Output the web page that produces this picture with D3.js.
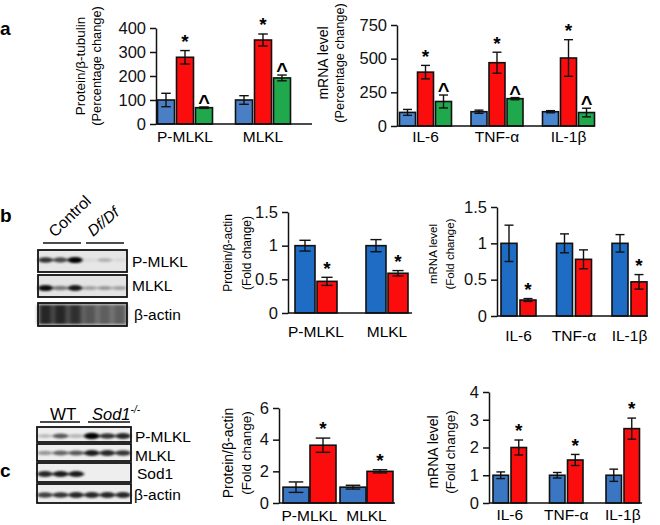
<!DOCTYPE html>
<html><head><meta charset="utf-8">
<script src="https://cdn.jsdelivr.net/npm/d3@7"></script>
<style>
html,body{margin:0;padding:0;background:#fff;}
svg{display:block;font-family:"Liberation Sans",Arial,sans-serif;}
</style></head>
<body>
<svg id="chart" width="660" height="525"></svg>
<script>
// ---------- DATA ----------
// Panel a (three groups)
const aProtCats = ["P-MLKL", "MLKL"];
const aProtValues = [[100, 278, 68], [100, 350, 192]];
const aProtErrors = [[28, 28, 3], [18, 25, 12]];
const aProtMarks = [["", "*", "^"], ["", "*", "^"]];
const aProtTicks = [0, 100, 200, 300, 400];

const aMrnaCats = ["IL-6", "TNF-α", "IL-1β"];
const aMrnaValues = [[101, 400, 182], [106, 470, 203], [106, 505, 100]];
const aMrnaErrors = [[22, 50, 48], [12, 78, 8], [8, 136, 32]];
const aMrnaMarks = [["", "*", "^"], ["", "*", "^"], ["", "*", "^"]];
const aMrnaTicks = [0, 250, 500, 750];

// Panel b (Control vs Df/Df)
const bProtCats = ["P-MLKL", "MLKL"];
const bProtValues = [[1.0, 0.47], [1.0, 0.59]];
const bProtErrors = [[0.08, 0.06], [0.09, 0.04]];
const bProtMarks = [["", "*"], ["", "*"]];
const bProtTicks = [0, 0.5, 1, 1.5];

const bMrnaCats = ["IL-6", "TNF-α", "IL-1β"];
const bMrnaValues = [[1.0, 0.22], [1.0, 0.78], [1.0, 0.47]];
const bMrnaErrors = [[0.25, 0.02], [0.13, 0.13], [0.12, 0.1]];
const bMrnaMarks = [["", "*"], ["", ""], ["", "*"]];
const bMrnaTicks = [0, 0.5, 1, 1.5];

// Panel c (WT vs Sod1-/-)
const cProtCats = ["P-MLKL", "MLKL"];
const cProtValues = [[1.0, 3.65], [1.0, 2.0]];
const cProtErrors = [[0.33, 0.45], [0.12, 0.1]];
const cProtMarks = [["", "*"], ["", "*"]];
const cProtTicks = [0, 2, 4, 6];

const cMrnaCats = ["IL-6", "TNF-α", "IL-1β"];
const cMrnaValues = [[1.0, 2.0], [1.0, 1.55], [1.0, 2.68]];
const cMrnaErrors = [[0.12, 0.27], [0.1, 0.2], [0.22, 0.38]];
const cMrnaMarks = [["", "*"], ["", "*"], ["", "*"]];
const cMrnaTicks = [0, 1, 2, 3, 4];

// Western blot band intensities (6 lanes each)
const bBlotRows = ["P-MLKL", "MLKL", "β-actin"];
const bBlotBands = [
  [0.75, 0.65, 0.95, 0.06, 0.22, 0.06],
  [0.9, 0.45, 0.85, 0.28, 0.32, 0.28],
  [0.8, 0.8, 0.75, 0.55, 0.5, 0.5]
];
const cBlotRows = ["P-MLKL", "MLKL", "Sod1", "β-actin"];
const cBlotBands = [
  [0.2, 0.6, 0.22, 1.0, 0.75, 0.8],
  [0.35, 0.55, 0.6, 0.85, 0.8, 0.75],
  [0.8, 0.85, 0.85, 0, 0, 0],
  [0.7, 0.75, 0.8, 0.8, 0.8, 0.8]
];

// ---------- STYLE ----------
const RED = "#fb0d0d", GREEN = "#1fa84c";
const svg = d3.select("#chart");
const defs = svg.append("defs");
defs.append("filter").attr("id", "blur").attr("x", "-50%").attr("y", "-100%").attr("width", "200%").attr("height", "300%")
  .append("feGaussianBlur").attr("stdDeviation", "1.6 1.0");
defs.append("filter").attr("id", "blur2").attr("x", "-20%").attr("y", "-20%").attr("width", "140%").attr("height", "140%")
  .append("feGaussianBlur").attr("stdDeviation", "2.2 1.2");

function barChart(cfg) {
  const g = svg.append("g");
  const n = cfg.cats.length, ns = cfg.values[0].length;
  const y = d3.scaleLinear().domain([0, cfg.max]).range([cfg.y0, cfg.yTop]);
  const gw = ns * cfg.bw + (ns - 1) * cfg.gap;
  const xg = d3.scaleBand().domain(cfg.cats)
    .range([cfg.first, cfg.first + n * cfg.step - (cfg.step - gw)])
    .paddingInner(1 - gw / cfg.step).paddingOuter(0);
  const xs = d3.scaleBand().domain(d3.range(ns)).range([0, gw])
    .paddingInner(cfg.gap / (cfg.bw + cfg.gap)).paddingOuter(0);

  cfg.cats.forEach((c, i) => {
    const gg = g.append("g").attr("transform", `translate(${xg(c)},0)`);
    cfg.values[i].forEach((v, j) => {
      const x = xs(j), w = xs.bandwidth(), cx = x + w / 2;
      gg.append("rect").attr("x", x).attr("y", y(v)).attr("width", w).attr("height", y(0) - y(v))
        .attr("fill", cfg.colors[j]).attr("stroke", "#111").attr("stroke-width", 1.6);
      const e = cfg.errors[i][j];
      const cap = w * 0.28;
      gg.append("line").attr("x1", cx).attr("x2", cx).attr("y1", y(v + e)).attr("y2", y(v - e))
        .attr("stroke", "#111").attr("stroke-width", 1.4);
      [v + e, v - e].forEach(t => gg.append("line").attr("x1", cx - cap).attr("x2", cx + cap)
        .attr("y1", y(t)).attr("y2", y(t)).attr("stroke", "#111").attr("stroke-width", 1.4));
      const m = cfg.marks[i][j];
      if (m) {
        gg.append("text").attr("x", cx).attr("y", y(v + e) - (m === "*" ? -4 : 2))
          .attr("text-anchor", "middle").attr("font-size", m === "*" ? 19 : 20)
          .attr("font-weight", "bold")
          .attr("dy", m === "*" ? "-0.35em" : "0.2em").text(m);
      }
    });
    g.append("text").attr("x", xg(c) + gw / 2).attr("y", cfg.catY)
      .attr("text-anchor", "middle").attr("font-size", cfg.catSize || 15.5).text(c);
  });

  const ax = g.append("g").attr("transform", `translate(${cfg.axisX},0)`)
    .call(d3.axisLeft(y).tickValues(cfg.ticks).tickSize(6).tickSizeOuter(0).tickPadding(4)
      .tickFormat(cfg.fmt || d3.format("")));
  ax.select(".domain").attr("stroke", "#111").attr("stroke-width", 1.5);
  ax.selectAll(".tick line").attr("stroke", "#111").attr("stroke-width", 1.5);
  ax.selectAll(".tick text").attr("font-size", cfg.tickSize || 16.5).attr("fill", "#111")
    .attr("font-family", "Liberation Sans, Arial, sans-serif");
  g.append("line").attr("x1", cfg.axisX).attr("x2", cfg.axisEnd).attr("y1", y(0)).attr("y2", y(0))
    .attr("stroke", "#111").attr("stroke-width", 1.6);

  cfg.ylab.forEach((t, k) => {
    g.append("text").attr("transform", `translate(${cfg.ylabX[k]},${cfg.ylabY}) rotate(-90)`)
      .attr("text-anchor", "middle").attr("dy", "0.35em").attr("font-size", cfg.ylabSize[k]).text(t);
  });
}

function blot(cfg) {
  const g = svg.append("g");
  const lanes = d3.scaleBand().domain(d3.range(6)).range([cfg.x0, cfg.x1]).paddingInner(0.08).paddingOuter(0.05);
  cfg.rows.forEach((r, i) => {
    const [ry0, ry1] = cfg.rowY[i];
    g.append("rect").attr("x", cfg.x0).attr("y", ry0).attr("width", cfg.x1 - cfg.x0).attr("height", ry1 - ry0)
      .attr("fill", cfg.bg[i]);
    const bandY = cfg.bandY[i];
    if (cfg.smear && cfg.smear[i]) {
      const gg = g.append("g").attr("filter", "url(#blur2)");
      cfg.bands[i].forEach((v, l) => {
        gg.append("rect").attr("x", lanes(l)).attr("y", ry0 + 2).attr("width", lanes.bandwidth())
          .attr("height", ry1 - ry0 - 4).attr("fill", "#000").attr("opacity", v);
      });
    } else {
      const gg = g.append("g").attr("filter", "url(#blur)");
      cfg.bands[i].forEach((v, l) => {
        if (v <= 0) return;
        gg.append("ellipse").attr("cx", lanes(l) + lanes.bandwidth() / 2).attr("cy", bandY)
          .attr("rx", lanes.bandwidth() * 0.55).attr("ry", 1.6 + v * 1.6)
          .attr("fill", "#000").attr("opacity", Math.min(1, v * 1.05));
      });
    }
    g.append("rect").attr("x", cfg.x0).attr("y", ry0).attr("width", cfg.x1 - cfg.x0).attr("height", ry1 - ry0)
      .attr("fill", "none").attr("stroke", "#111").attr("stroke-width", 1.8);
    g.append("text").attr("x", cfg.labX[i]).attr("y", cfg.labY[i]).attr("font-size", 15.5).text(r);
  });
}

// ---------- PANEL LETTERS ----------
[["a", 0, 35], ["b", 0, 222], ["c", 0, 477]].forEach(([t, x, yy]) =>
  svg.append("text").attr("x", x).attr("y", yy).attr("font-size", 19).attr("font-weight", "bold").text(t));

// ---------- PANEL a ----------
barChart({cats: aProtCats, values: aProtValues, errors: aProtErrors, marks: aProtMarks, ticks: aProtTicks,
  max: 400, y0: 124, yTop: 28, axisX: 156, axisEnd: 312, first: 157.5, bw: 17, gap: 2, step: 78,
  colors: ["#4a7fc6", RED, GREEN], catY: 142, ylab: ["Protein/β-tubulin", "(Percentage change)"],
  ylabX: [80, 97], ylabY: 66, ylabSize: [13.5, 12.8]});
barChart({cats: aMrnaCats, values: aMrnaValues, errors: aMrnaErrors, marks: aMrnaMarks, ticks: aMrnaTicks,
  max: 750, y0: 126, yTop: 25, axisX: 397, axisEnd: 595, first: 399.5, bw: 16, gap: 2, step: 71.5,
  colors: ["#4a86cf", RED, GREEN], catY: 142, ylab: ["mRNA level", "(Percentage change)"],
  ylabX: [323, 340], ylabY: 63, ylabSize: [14, 12.8]});

// ---------- PANEL b ----------
const bCtrl = svg.append("g");
bCtrl.append("text").attr("transform", "translate(55,238) rotate(-44)").attr("font-size", 16).text("Control");
bCtrl.append("text").attr("transform", "translate(93,237) rotate(-40)").attr("font-size", 15.5)
  .attr("font-style", "italic").text("Df/Df");
bCtrl.append("line").attr("x1", 43).attr("x2", 81).attr("y1", 243).attr("y2", 243).attr("stroke", "#111").attr("stroke-width", 1.5);
bCtrl.append("line").attr("x1", 86).attr("x2", 124).attr("y1", 243).attr("y2", 243).attr("stroke", "#111").attr("stroke-width", 1.5);
blot({rows: bBlotRows, bands: bBlotBands, x0: 38, x1: 127,
  rowY: [[250, 272], [275, 297], [303, 326]], bandY: [260, 288, 314],
  bg: ["#e6e6e6", "#e4e4e4", "#bdbdbd"], smear: [false, false, true],
  labX: [132, 132, 134], labY: [267, 291, 320]});

barChart({cats: bProtCats, values: bProtValues, errors: bProtErrors, marks: bProtMarks, ticks: bProtTicks,
  max: 1.5, y0: 313, yTop: 212, axisX: 288, axisEnd: 412, first: 295, bw: 20, gap: 2, step: 71,
  colors: ["#1f6cc4", RED], catY: 337, ylab: ["Protein/β-actin", "(Fold change)"],
  ylabX: [228, 247], ylabY: 253, ylabSize: [12, 12]});
barChart({cats: bMrnaCats, values: bMrnaValues, errors: bMrnaErrors, marks: bMrnaMarks, ticks: bMrnaTicks,
  max: 1.5, y0: 316, yTop: 207, axisX: 497, axisEnd: 648, first: 501, bw: 16, gap: 3, step: 55.5,
  colors: ["#1f6cc4", RED], catY: 341, ylab: ["mRNA level", "(Fold change)"],
  ylabX: [433, 450], ylabY: 254, ylabSize: [11.5, 11.5]});

// ---------- PANEL c ----------
const cHead = svg.append("g");
cHead.append("text").attr("x", 50).attr("y", 420).attr("font-size", 17).text("WT");
const sod = cHead.append("text").attr("x", 92).attr("y", 420).attr("font-size", 16.5).attr("font-style", "italic");
sod.append("tspan").text("Sod1");
sod.append("tspan").attr("dy", -7).attr("font-size", 10).text("-/-");
cHead.append("line").attr("x1", 40).attr("x2", 80).attr("y1", 422).attr("y2", 422).attr("stroke", "#111").attr("stroke-width", 1.5);
cHead.append("line").attr("x1", 88).attr("x2", 130).attr("y1", 422).attr("y2", 422).attr("stroke", "#111").attr("stroke-width", 1.5);
blot({rows: cBlotRows, bands: cBlotBands, x0: 37, x1: 131,
  rowY: [[427, 442], [444, 461], [463, 482], [484, 503]], bandY: [436, 453, 474, 495],
  bg: ["#eeeeee", "#eeeeee", "#eeeeee", "#eeeeee"], smear: [false, false, false, false],
  labX: [135, 135, 137, 134], labY: [442, 461, 479, 500]});

barChart({cats: cProtCats, values: cProtValues, errors: cProtErrors, marks: cProtMarks, ticks: cProtTicks,
  max: 6, y0: 503, yTop: 408, axisX: 279, axisEnd: 395, first: 283, bw: 26, gap: 1, step: 57,
  colors: ["#3a76c2", RED], catY: 521, ylab: ["Protein/β-actin", "(Fold change)"],
  ylabX: [228, 246], ylabY: 453, ylabSize: [14, 13.5]});
barChart({cats: cMrnaCats, values: cMrnaValues, errors: cMrnaErrors, marks: cMrnaMarks, ticks: cMrnaTicks,
  max: 4, y0: 503, yTop: 392, axisX: 489, axisEnd: 642, first: 493, bw: 15.5, gap: 2.5, step: 56.5,
  colors: ["#3a76c2", RED], catY: 520, ylab: ["mRNA level", "(Fold change)"],
  ylabX: [433, 450], ylabY: 452, ylabSize: [14, 13.5]});
</script>
</body></html>
